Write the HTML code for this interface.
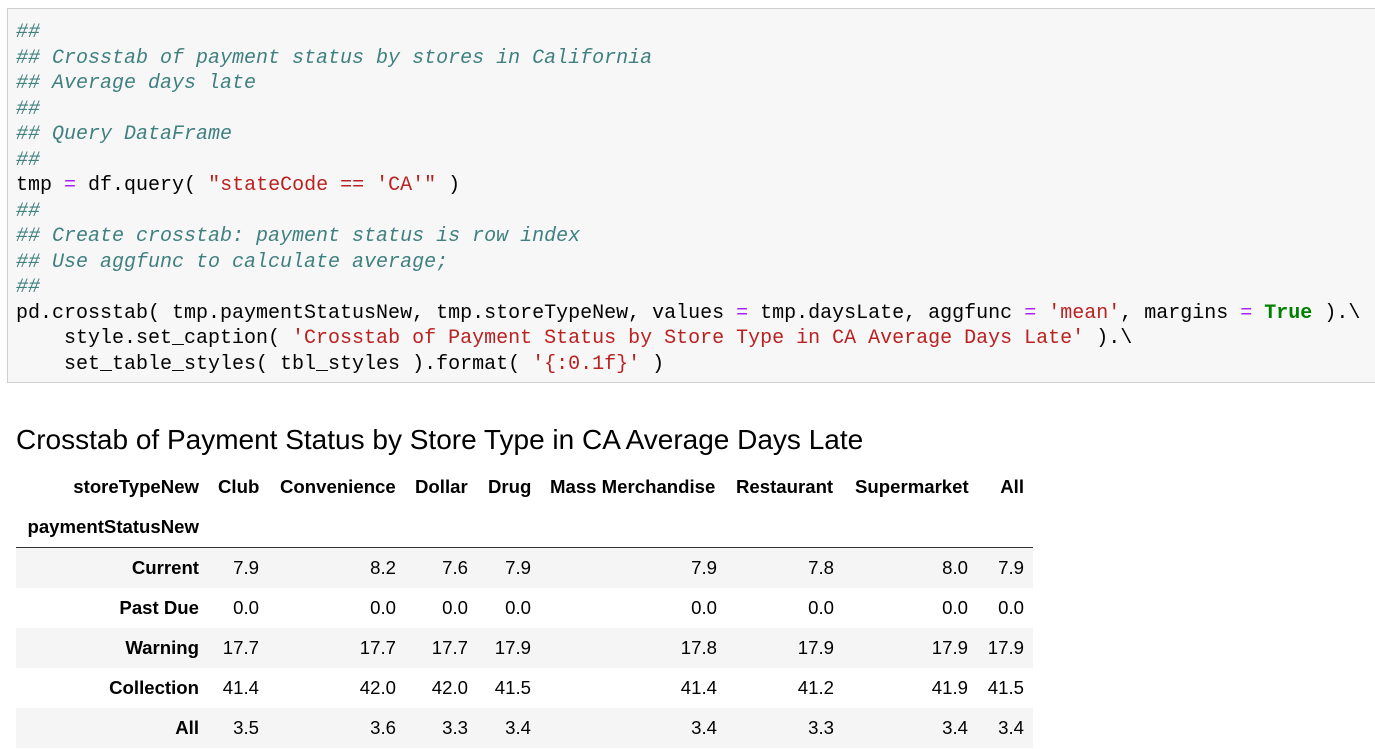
<!DOCTYPE html>
<html><head><meta charset="utf-8"><style>
body{margin:0;width:1375px;height:749px;background:#fff;position:relative;overflow:hidden;font-family:"Liberation Sans",sans-serif}
.code{position:absolute;left:7px;top:8px;width:1368px;height:375px;background:#f7f7f7;border:1px solid #cfcfcf;border-right:none;box-sizing:border-box}
.code pre{margin:0;position:absolute;left:8px;top:11px;font-family:"Liberation Mono",monospace;font-size:20px;line-height:25.5px;color:#000}
.c{color:#408080;font-style:italic}.o{color:#aa22ff}.s{color:#ba2121}.k{color:#008000;font-weight:bold}
.cap{position:absolute;left:16px;top:424px;font-size:28px;color:#000}
.t{position:absolute;font-size:18.6px;line-height:40px;height:40px;white-space:nowrap;color:#000}
.b{font-weight:bold}
.stripe{position:absolute;left:16px;width:1017px;height:40px;background:#f5f5f5}
.rule{position:absolute;left:16px;top:547px;width:1017px;height:1px;background:#333}
</style></head><body>
<div class="code"><pre><span class="c">##</span>
<span class="c">## Crosstab of payment status by stores in California</span>
<span class="c">## Average days late</span>
<span class="c">##</span>
<span class="c">## Query DataFrame</span>
<span class="c">##</span>
tmp <span class="o">=</span> df.query( <span class="s">"stateCode == 'CA'"</span> )
<span class="c">##</span>
<span class="c">## Create crosstab: payment status is row index</span>
<span class="c">## Use aggfunc to calculate average;</span>
<span class="c">##</span>
pd.crosstab( tmp.paymentStatusNew, tmp.storeTypeNew, values <span class="o">=</span> tmp.daysLate, aggfunc <span class="o">=</span> <span class="s">'mean'</span>, margins <span class="o">=</span> <span class="k">True</span> ).\
    style.set_caption( <span class="s">'Crosstab of Payment Status by Store Type in CA Average Days Late'</span> ).\
    set_table_styles( tbl_styles ).format( <span class="s">'{:0.1f}'</span> )</pre></div>
<div class="cap">Crosstab of Payment Status by Store Type in CA Average Days Late</div>
<div id="tbl"></div>
<script>
const columns=["Club","Convenience","Dollar","Drug","Mass Merchandise","Restaurant","Supermarket","All"];
const rows=["Current","Past Due","Warning","Collection","All"];
const vCurrent=[7.9,8.2,7.6,7.9,7.9,7.8,8.0,7.9];
const vPastDue=[0.0,0.0,0.0,0.0,0.0,0.0,0.0,0.0];
const vWarning=[17.7,17.7,17.7,17.9,17.8,17.9,17.9,17.9];
const vCollection=[41.4,42.0,42.0,41.5,41.4,41.2,41.9,41.5];
const vAll=[3.5,3.6,3.3,3.4,3.4,3.3,3.4,3.4];
const values=[vCurrent,vPastDue,vWarning,vCollection,vAll];
const hdrLeft=[218,280,415,488,550,736,855,1000];
const valRight=[259,396,468,531,717,834,968,1024];
const tbl=document.getElementById('tbl');
function add(txt,cls,left,right,top){const d=document.createElement('div');d.className='t '+cls;d.textContent=txt;d.style.top=top+'px';
if(left!=null)d.style.left=left+'px';else d.style.right=(1375-right)+'px';


tbl.appendChild(d);}
rows.forEach((r,i)=>{if(i%2==0){const s=document.createElement('div');s.className='stripe';s.style.top=(548+i*40)+'px';


tbl.appendChild(s);}});
const rule=document.createElement('div');rule.className='rule';


tbl.appendChild(rule);
add('storeTypeNew','b',null,199,467);
add('paymentStatusNew','b',null,199,507);
columns.forEach((c,j)=>{if(c==='All')add(c,'b',null,1024,467);else add(c,'b',hdrLeft[j],null,467);});
rows.forEach((r,i)=>{const top=548+i*40;add(r,'b',null,199,top);
values[i].forEach((v,j)=>add(v.toFixed(1),'',null,valRight[j],top));});
</script>
</body></html>
